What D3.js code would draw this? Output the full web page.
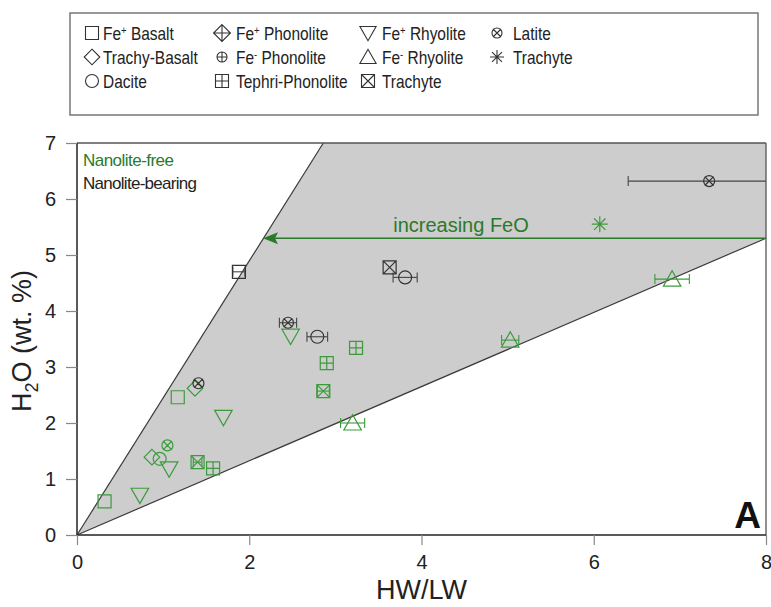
<!DOCTYPE html>
<html lang="en">
<head>
    <meta charset="UTF-8">
    <title>HW/LW vs H2O</title>
    <style>
        body { margin: 0; background: #fff; }
        svg { font-family: "Liberation Sans", Arial, sans-serif; }
    </style>
</head>
<body>
    <script src="https://cdnjs.cloudflare.com/ajax/libs/d3/7.8.2/d3.min.js"></script>
    <script>

        // points : x = HW/LW, y = H2O, e = erreur en x, b = nanolite-bearing
        const feBasalt = [
            {x : 0.32, y : 0.60, e : 0, b : false},
            {x : 1.17, y : 2.46, e : 0, b : false},
            {x : 1.88, y : 4.70, e : 0.07, b : true}
        ]
        const trachyBasalt = [
            {x : 0.87, y : 1.39, e : 0, b : false},
            {x : 1.37, y : 2.62, e : 0, b : false}
        ]
        const dacite = [
            {x : 0.96, y : 1.36, e : 0, b : false},
            {x : 2.79, y : 3.54, e : 0.12, b : true},
            {x : 3.81, y : 4.60, e : 0.14, b : true}
        ]
        const tephriPhonolite = [
            {x : 1.58, y : 1.19, e : 0, b : false},
            {x : 2.90, y : 3.07, e : 0, b : false},
            {x : 3.24, y : 3.34, e : 0, b : false}
        ]
        const fePlusRhyolite = [
            {x : 0.73, y : 0.71, e : 0, b : false},
            {x : 1.07, y : 1.18, e : 0, b : false},
            {x : 1.70, y : 2.10, e : 0, b : false},
            {x : 2.48, y : 3.55, e : 0, b : false}
        ]
        const feMinusRhyolite = [
            {x : 3.20, y : 2.00, e : 0.14, b : false},
            {x : 5.03, y : 3.48, e : 0.10, b : false},
            {x : 6.91, y : 4.57, e : 0.20, b : false}
        ]
        const trachyteBox = [
            {x : 1.40, y : 1.30, e : 0.05, b : false},
            {x : 2.86, y : 2.57, e : 0.07, b : false},
            {x : 3.63, y : 4.78, e : 0, b : true}
        ]
        const latite = [
            {x : 1.05, y : 1.60, e : 0, b : false},
            {x : 1.41, y : 2.71, e : 0, b : true},
            {x : 2.45, y : 3.79, e : 0.10, b : true},
            {x : 7.34, y : 6.32, e : 0.94, b : true}
        ]
        const trachyteStar = [
            {x : 6.07, y : 5.55, e : 0, b : false}
        ]

        // zone grise et fleche
        const zone = [[0,0],[2.86,7],[8,7],[8,5.3]]
        const fleche = {x1 : 8, x2 : 2.16, y : 5.3}

        const xTicks = [0,2,4,6,8]
        const yTicks = [0,1,2,3,4,5,6,7]

        const legende = [
            {sym : "square", label : ["Fe", "+", " Basalt"]},
            {sym : "diamond", label : ["Trachy-Basalt"]},
            {sym : "circle", label : ["Dacite"]},
            {sym : "diamondPlus", label : ["Fe", "+", " Phonolite"]},
            {sym : "circlePlus", label : ["Fe", "-", " Phonolite"]},
            {sym : "squarePlus", label : ["Tephri-Phonolite"]},
            {sym : "triDown", label : ["Fe", "+", " Rhyolite"]},
            {sym : "triUp", label : ["Fe", "-", " Rhyolite"]},
            {sym : "squareX", label : ["Trachyte"]},
            {sym : "circleX", label : ["Latite"]},
            {sym : "star", label : ["Trachyte"]}
        ]

        const series = [
            {sym : "square", data : feBasalt},
            {sym : "diamond", data : trachyBasalt},
            {sym : "circle", data : dacite},
            {sym : "squarePlus", data : tephriPhonolite},
            {sym : "triDown", data : fePlusRhyolite},
            {sym : "triUp", data : feMinusRhyolite},
            {sym : "squareX", data : trachyteBox},
            {sym : "circleX", data : latite},
            {sym : "star", data : trachyteStar}
        ]

        const w = 771
        const h = 607
        const m = {l : 77, r : 766, t : 143, b : 535}

        const vert = "#3c9a3c"
        const vertFonce = "#2a7a2a"

        const svg = d3.select("body")
            .append("svg")
                .attr("width", w)
                .attr("height", h)

        const x = d3.scaleLinear().domain([0,8]).range([m.l, m.r])
        const y = d3.scaleLinear().domain([0,7]).range([m.b, m.t])

        // formes des symboles, centrées sur 0,0
        function forme(type, s) {
            const p = d3.path()
            if (type == "square" || type == "squarePlus" || type == "squareX") {
                p.rect(-s, -s, 2*s, 2*s)
                if (type == "squarePlus") {
                    p.moveTo(0,-s); p.lineTo(0,s); p.moveTo(-s,0); p.lineTo(s,0)
                }
                if (type == "squareX") {
                    p.moveTo(-s,-s); p.lineTo(s,s); p.moveTo(s,-s); p.lineTo(-s,s)
                }
            } else if (type == "diamond" || type == "diamondPlus") {
                const d = s*1.3
                p.moveTo(0,-d); p.lineTo(d,0); p.lineTo(0,d); p.lineTo(-d,0); p.closePath()
                if (type == "diamondPlus") {
                    p.moveTo(0,-d); p.lineTo(0,d); p.moveTo(-d,0); p.lineTo(d,0)
                }
            } else if (type == "circle" || type == "circlePlus" || type == "circleX") {
                p.moveTo(s,0); p.arc(0,0,s,0,2*Math.PI)
                if (type == "circlePlus") {
                    p.moveTo(0,-s); p.lineTo(0,s); p.moveTo(-s,0); p.lineTo(s,0)
                }
                if (type == "circleX") {
                    const k = s*0.8
                    p.moveTo(-k,-k); p.lineTo(k,k); p.moveTo(k,-k); p.lineTo(-k,k)
                }
            } else if (type == "triDown") {
                const d = s*1.25
                p.moveTo(-d,-d*0.8); p.lineTo(d,-d*0.8); p.lineTo(0,d*0.95); p.closePath()
            } else if (type == "triUp") {
                const d = s*1.25
                p.moveTo(-d,d*0.8); p.lineTo(d,d*0.8); p.lineTo(0,-d*0.95); p.closePath()
            } else if (type == "star") {
                for (let i = 0; i < 4; i++) {
                    const a = i*Math.PI/4
                    p.moveTo(-s*Math.cos(a), -s*Math.sin(a)); p.lineTo(s*Math.cos(a), s*Math.sin(a))
                }
            }
            return p.toString()
        }

        const tailles = {square : 6.5, squarePlus : 6.5, squareX : 6.5, diamond : 6, diamondPlus : 6,
            circle : 6.5, circlePlus : 5, circleX : 5.5, triDown : 7, triUp : 7, star : 8}

        // zone grise
        svg.append("path")
            .attr("d", d3.line().x(d => x(d[0])).y(d => y(d[1]))(zone) + "Z")
            .style("fill", "#cdcdcd")
            .style("stroke", "none")

        svg.append("line")
            .attr("x1", x(0)).attr("y1", y(0)).attr("x2", x(zone[1][0])).attr("y2", y(zone[1][1]))
            .style("stroke", "#3a3a3a").style("stroke-width", 1.2)
        svg.append("line")
            .attr("x1", x(0)).attr("y1", y(0)).attr("x2", x(zone[3][0])).attr("y2", y(zone[3][1]))
            .style("stroke", "#3a3a3a").style("stroke-width", 1.2)

        // cadre haut et droite
        svg.append("line")
            .attr("x1", m.l).attr("y1", m.t).attr("x2", m.r).attr("y2", m.t)
            .style("stroke", "#555").style("stroke-width", 1.3)
        svg.append("line")
            .attr("x1", m.r).attr("y1", m.t).attr("x2", m.r).attr("y2", m.b)
            .style("stroke", "#555").style("stroke-width", 1.3)

        // fleche
        svg.append("line")
            .attr("x1", x(fleche.x1)).attr("y1", y(fleche.y))
            .attr("x2", x(fleche.x2) + 12).attr("y2", y(fleche.y))
            .style("stroke", vertFonce).style("stroke-width", 1.6)
        svg.append("path")
            .attr("d", `M${x(fleche.x2)},${y(fleche.y)} l15,-6 l-3,6 l3,6 Z`)
            .style("fill", vertFonce)

        svg.append("text")
            .attr("x", 461).attr("y", y(fleche.y) - 6)
            .attr("text-anchor", "middle")
            .style("font-size", "20px")
            .style("fill", vertFonce)
            .text("increasing FeO")

        // barres d'erreur
        const tous = series.flatMap(s => s.data.map(d => ({...d, sym : s.sym})))

        const barres = svg.append("g")
        tous.filter(d => d.e > 0).forEach(d => {
            const c = d.b ? "#444" : vert
            const x1 = x(d.x - d.e), x2 = Math.min(x(d.x + d.e), m.r)
            barres.append("line")
                .attr("x1", x1).attr("x2", x2).attr("y1", y(d.y)).attr("y2", y(d.y))
                .style("stroke", c).style("stroke-width", 1.1)
            barres.append("line")
                .attr("x1", x1).attr("x2", x1).attr("y1", y(d.y) - 5).attr("y2", y(d.y) + 5)
                .style("stroke", c).style("stroke-width", 1.1)
            if (x(d.x + d.e) <= m.r) {
                barres.append("line")
                    .attr("x1", x2).attr("x2", x2).attr("y1", y(d.y) - 5).attr("y2", y(d.y) + 5)
                    .style("stroke", c).style("stroke-width", 1.1)
            }
        })

        // points
        svg.append("g").selectAll("path")
            .data(tous)
            .enter()
            .append("path")
                .attr("transform", d => `translate(${x(d.x)},${y(d.y)})`)
                .attr("d", d => forme(d.sym, tailles[d.sym]))
                .style("fill", "none")
                .style("stroke", d => d.b ? "#333" : vert)
                .style("stroke-width", 1.2)

        // axes
        const axeX = svg.append("g")
            .attr("transform", `translate(0,${m.b})`)
            .call(d3.axisBottom(x).tickValues(xTicks).tickSize(10).tickPadding(10).tickFormat(d3.format("d")))
        const axeY = svg.append("g")
            .attr("transform", `translate(${m.l},0)`)
            .call(d3.axisLeft(y).tickValues(yTicks).tickSize(11).tickPadding(10).tickFormat(d3.format("d")))

        ;[axeX, axeY].forEach(a => {
            a.select(".domain").attr("d", a === axeX ? `M${m.l},0H${m.r}` : `M0,${m.b}V${m.t}`)
                .style("stroke", "#222").style("stroke-width", 1.5)
            a.selectAll(".tick line").style("stroke", "#888").style("stroke-width", 1.2)
            a.selectAll(".tick text").style("font-size", "20px").style("fill", "#222")
                .style("font-family", "Liberation Sans, Arial, sans-serif")
        })

        svg.append("text")
            .attr("x", x(4)).attr("y", 599)
            .attr("text-anchor", "middle")
            .style("font-size", "27px").style("fill", "#222")
            .text("HW/LW")

        const titreY = svg.append("text")
            .attr("transform", `translate(31,${y(3.5) + 2}) rotate(-90)`)
            .attr("text-anchor", "middle")
            .style("font-size", "27px").style("fill", "#222")
        titreY.append("tspan").text("H")
        titreY.append("tspan").attr("dy", 7).style("font-size", "18px").text("2")
        titreY.append("tspan").attr("dy", -7).text("O (wt. %)")

        // annotations
        svg.append("text")
            .attr("x", 83).attr("y", 166)
            .style("font-size", "17px").style("fill", vertFonce)
            .attr("textLength", 91)
            .text("Nanolite-free")
        svg.append("text")
            .attr("x", 83).attr("y", 189)
            .style("font-size", "17px").style("fill", "#222")
            .attr("textLength", 114)
            .text("Nanolite-bearing")

        svg.append("text")
            .attr("x", 761).attr("y", 528)
            .attr("text-anchor", "end")
            .style("font-size", "37px").style("font-weight", "bold").style("fill", "#111")
            .text("A")

        // légende
        svg.append("rect")
            .attr("x", 70).attr("y", 13).attr("width", 688).attr("height", 102)
            .style("fill", "#fff").style("stroke", "#777").style("stroke-width", 1.5)

        const colX = [92, 222, 368, 497]
        const colTexte = [11, 14, 14, 16]
        const rowY = [33, 57, 81]
        const colonnes = [3, 3, 3, 2]
        let idx = 0
        colonnes.forEach((n, c) => {
            for (let r = 0; r < n; r++) {
                const item = legende[idx++]
                const g = svg.append("g").attr("transform", `translate(${colX[c]},${rowY[r]})`)
                const s = {square : 6.5, diamond : 6, circle : 6.5, diamondPlus : 6.5, circlePlus : 5,
                    squarePlus : 6.5, triDown : 6.5, triUp : 6.5, squareX : 6.5, circleX : 5, star : 7}[item.sym]
                g.append("path")
                    .attr("d", forme(item.sym, s))
                    .style("fill", "none").style("stroke", "#333").style("stroke-width", 1.1)
                const t = g.append("text")
                    .attr("transform", `translate(${colTexte[c]},6.5) scale(0.86,1)`)
                    .style("font-size", "18px").style("fill", "#222")
                t.append("tspan").text(item.label[0])
                if (item.label.length > 1) {
                    t.append("tspan").attr("dy", -6).style("font-size", "11px").text(item.label[1])
                    t.append("tspan").attr("dy", 6).text(item.label[2])
                }
            }
        })

    </script>
</body>
</html>
